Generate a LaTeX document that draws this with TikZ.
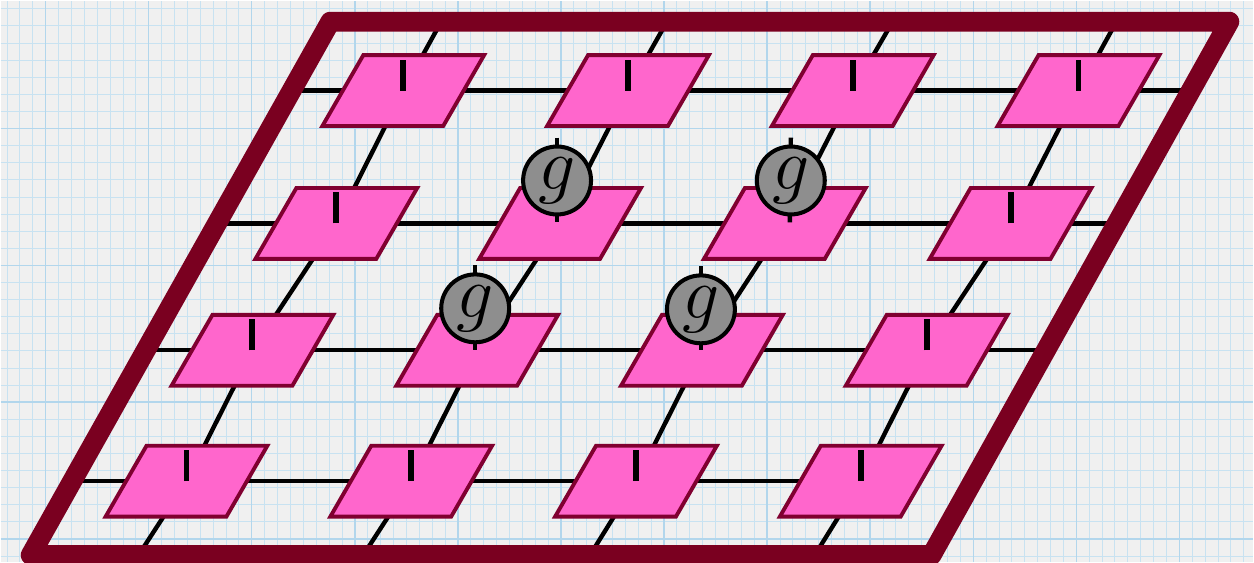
\RequirePackage{fix-cm}
\documentclass[tikz,border=0pt]{standalone}
\usetikzlibrary{shapes.geometric}

\definecolor{paper}{RGB}{240,240,240}
\definecolor{gridminor}{RGB}{200,226,241}
\definecolor{gridmajor}{RGB}{178,214,236}
\definecolor{wine}{RGB}{122,0,32}
\definecolor{tileedge}{RGB}{128,0,48}
\definecolor{tilepink}{RGB}{255,102,204}
\definecolor{gategray}{RGB}{142,142,142}

\begin{document}
\begin{tikzpicture}[x=0.02cm,y=0.02cm,
  wire/.style={line width=2.5pt,black},
  frame/.style={line width=11.3pt,wine,line join=round},
  tile/.style={trapezium,trapezium left angle=60,trapezium right angle=120,
    inner xsep=0.8cm,inner ysep=0.71cm,fill=tilepink,draw=tileedge,line width=2.2pt},
  itile/.style={tile,path picture={\draw[black,line width=3.4pt] (path picture bounding box.center) -- ++(0,31);}},
  gate/.style={circle,minimum size=1.36cm,inner sep=0pt,fill=gategray,draw=black,line width=2.3pt,
    font=\fontsize{42}{42}\selectfont}]
  % graph paper
  \fill[paper] (0,0) rectangle (1254,-562);
  \draw[gridminor,line width=0.5pt,xstep=0.258cm,ystep=0.3425cm,shift={(45,-128)}] (-45,-434) grid (1209,128);
  \draw[gridmajor,line width=0.8pt,xstep=2.064cm,ystep=2.74cm,shift={(45,-128)}] (-45,-434) grid (1209,128);
  \useasboundingbox (0,0) rectangle (1254,-562);
  % lattice sites
  \coordinate (c00) at (403,-90);  \coordinate (c01) at (628,-90);  \coordinate (c02) at (853,-90);  \coordinate (c03) at (1079,-90);
  \coordinate (c10) at (336,-223); \coordinate (c11) at (560,-223); \coordinate (c12) at (785,-223); \coordinate (c13) at (1011,-223);
  \coordinate (c20) at (252,-350); \coordinate (c21) at (477,-350); \coordinate (c22) at (702,-350); \coordinate (c23) at (927,-350);
  \coordinate (c30) at (186,-481); \coordinate (c31) at (411,-481); \coordinate (c32) at (636,-481); \coordinate (c33) at (861,-481);
  % loose ends under the frame
  \coordinate (n0) at (441,-21);  \coordinate (n1) at (667,-21);  \coordinate (n2) at (893,-21);  \coordinate (n3) at (1117,-21);
  \coordinate (s0) at (138,-555); \coordinate (s1) at (363,-555); \coordinate (s2) at (590,-555); \coordinate (s3) at (815,-555);
  \coordinate (w0) at (291,-90);  \coordinate (w1) at (216,-223); \coordinate (w2) at (145,-350); \coordinate (w3) at (72,-481);
  \coordinate (e0) at (1192,-90); \coordinate (e1) at (1118,-223); \coordinate (e2) at (1047,-350);
  % bonds
  \draw[wire] (w0) -- (c00) -- (c01) -- (c02) -- (c03) -- (e0);
  \draw[wire] (w1) -- (c10) -- (c11) -- (c12) -- (c13) -- (e1);
  \draw[wire] (w2) -- (c20) -- (c21) -- (c22) -- (c23) -- (e2);
  \draw[wire] (w3) -- (c30) -- (c31) -- (c32) -- (c33);
  \draw[wire] (n0) -- (c00) -- (c10) -- (c20) -- (c30) -- (s0);
  \draw[wire] (n1) -- (c01) -- (c11) -- (c21) -- (c31) -- (s1);
  \draw[wire] (n2) -- (c02) -- (c12) -- (c22) -- (c32) -- (s2);
  \draw[wire] (n3) -- (c03) -- (c13) -- (c23) -- (c33) -- (s3);
  % boundary
  \draw[frame] (330,-21) -- (1230,-21) -- (932,-555) -- (30,-555) -- cycle;
  % tensors
  \node[itile] (t00) at (c00) {}; \node[itile] (t01) at (c01) {}; \node[itile] (t02) at (c02) {}; \node[itile] (t03) at (c03) {};
  \node[itile] (t10) at (c10) {}; \node[tile]  (t11) at (c11) {}; \node[tile]  (t12) at (c12) {}; \node[itile] (t13) at (c13) {};
  \node[itile] (t20) at (c20) {}; \node[tile]  (t21) at (c21) {}; \node[tile]  (t22) at (c22) {}; \node[itile] (t23) at (c23) {};
  \node[itile] (t30) at (c30) {}; \node[itile] (t31) at (c31) {}; \node[itile] (t32) at (c32) {}; \node[itile] (t33) at (c33) {};
  % g insertions
  \coordinate (g1top) at (557,-137); \coordinate (g2top) at (791,-137);
  \coordinate (g3top) at (475,-265); \coordinate (g4top) at (701,-266);
  \draw[wire] (g1top) -- (557,-222);
  \draw[wire] (g2top) -- (790,-222);
  \draw[wire] (g3top) -- (475,-350);
  \draw[wire] (g4top) -- (701,-350);
  \node[gate] (g1) at (557,-180) {$g$};
  \node[gate] (g2) at (791,-180) {$g$};
  \node[gate] (g3) at (475,-308) {$g$};
  \node[gate] (g4) at (701,-309) {$g$};
\end{tikzpicture}
\end{document}
